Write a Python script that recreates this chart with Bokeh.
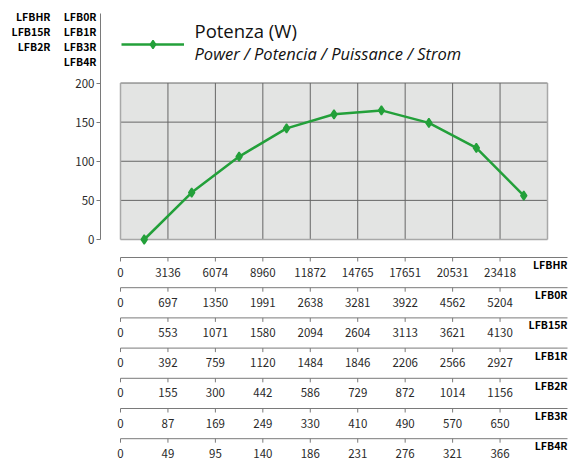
from bokeh.plotting import figure
from bokeh.models import Range1d, FixedTicker, Label, Legend, LegendItem
from bokeh.core.properties import value
from bokeh.embed import file_html
from bokeh.resources import INLINE

# ---------------- data ----------------
power_w = [0, 60, 106, 142, 160, 165, 149, 117, 56]
y_ticks = [0, 50, 100, 150, 200]

row_names = ["LFBHR", "LFB0R", "LFB15R", "LFB1R", "LFB2R", "LFB3R", "LFB4R"]
lfbhr = [0, 3136, 6074, 8960, 11872, 14765, 17651, 20531, 23418]
lfb0r = [0, 697, 1350, 1991, 2638, 3281, 3922, 4562, 5204]
lfb15r = [0, 553, 1071, 1580, 2094, 2604, 3113, 3621, 4130]
lfb1r = [0, 392, 759, 1120, 1484, 1846, 2206, 2566, 2927]
lfb2r = [0, 155, 300, 442, 586, 729, 872, 1014, 1156]
lfb3r = [0, 87, 169, 249, 330, 410, 490, 570, 650]
lfb4r = [0, 49, 95, 140, 186, 231, 276, 321, 366]
row_values = [lfbhr, lfb0r, lfb15r, lfb1r, lfb2r, lfb3r, lfb4r]

header_left = ["LFBHR", "LFB15R", "LFB2R"]
header_right = ["LFB0R", "LFB1R", "LFB3R", "LFB4R"]
legend_title = "Potenza (W)"
legend_sub = "Power / Potencia / Puissance / Strom"

# ---------------- layout (canvas pixels) ----------------
W, H = 568, 463
YAXIS_X, YAXIS_TOP = 100, 13
X0, XPU = 120, 427 / 9          # data x=0 at pixel, pixels per category
Y0, YPU = 239, 156.5 / 200      # data y=0 at pixel, pixels per watt
ROW0, PITCH = 257, 30.2         # first scale line, spacing of scales
NAME_RIGHT = 567

GREEN = "#23a03a"
GRID = "#666666"
EDGE = "#a8a8a8"
AXIS = "#7a7a7a"
TXT = "#2a2a2a"
NARROW = "Noto Sans CJK SC"
SANS = "Open Sans"

n = len(power_w)

p = figure(width=W, height=H,
           x_range=Range1d(-X0 / XPU, (W - X0) / XPU),
           y_range=Range1d(-(H - Y0) / YPU, Y0 / YPU),
           x_axis_type=None, output_backend="svg", toolbar_location=None,
           min_border=0)
p.outline_line_color = None
p.ygrid.visible = False
p.extra_y_ranges = {"rows": Range1d((H - ROW0) / PITCH, -ROW0 / PITCH)}

ya = p.yaxis[0]
ya.fixed_location = (YAXIS_X - X0) / XPU
ya.ticker = FixedTicker(ticks=y_ticks)
ya.bounds = (y_ticks[0], (Y0 - YAXIS_TOP) / YPU)
ya.major_tick_out = 4
ya.major_tick_in = 0
ya.minor_tick_line_color = None
ya.axis_line_color = AXIS
ya.major_tick_line_color = AXIS
ya.major_label_standoff = 2
ya.major_label_text_font = NARROW
ya.major_label_text_font_size = "11.5px"
ya.major_label_text_color = TXT

# plot area background and grid
p.quad(left=0, right=n, bottom=y_ticks[0], top=y_ticks[-1], fill_color="#e3e4e3", line_color=None)
inner = list(range(1, n))
p.segment(x0=inner, x1=inner, y0=[y_ticks[0]] * len(inner), y1=[y_ticks[-1]] * len(inner),
          line_color=GRID, line_width=1)
p.segment(x0=[0] * (len(y_ticks) - 1), x1=[n] * (len(y_ticks) - 1), y0=y_ticks[1:], y1=y_ticks[1:],
          line_color=GRID, line_width=1)
p.segment(x0=[0, n, 0], x1=[0, n, n], y0=[y_ticks[0], y_ticks[0], y_ticks[0]],
          y1=[y_ticks[-1], y_ticks[-1], y_ticks[0]], line_color=EDGE, line_width=1.5)

# data
xs = [i + 0.5 for i in range(n)]
line_r = p.line(xs, power_w, line_color=GREEN, line_width=2.5)
pts_r = p.scatter(xs, power_w, marker="diamond", size=9,
                  fill_color=GREEN, line_color=GREEN, line_width=1.5)

# scales below the chart
ticks = list(range(n))
line_end = (NAME_RIGHT - X0) / XPU
for k, (name, vals) in enumerate(zip(row_names, row_values)):
    p.segment(x0=[0], x1=[line_end], y0=[k], y1=[k], y_range_name="rows",
              line_color=AXIS, line_width=1)
    p.segment(x0=ticks, x1=ticks, y0=[k] * n, y1=[k + 4 / PITCH] * n, y_range_name="rows",
              line_color=AXIS, line_width=1)
    p.text(x=ticks, y=[k + 14.5 / PITCH] * n, text=[str(v) for v in vals], y_range_name="rows",
           text_align="center", text_baseline="middle", text_font=value(NARROW),
           text_font_size="11.5px", text_color=TXT)
    p.text(x=[line_end], y=[k + 7 / PITCH], text=[name], y_range_name="rows",
           text_align="right", text_baseline="middle", text_font=value(NARROW),
           text_font_style="bold", text_font_size="10.5px", text_color="#000000")

# header model list (top left)
def header(txt, right_x, cy):
    p.add_layout(Label(x=right_x, y=H - cy, x_units="screen", y_units="screen",
                       text=txt, text_align="right", text_baseline="middle",
                       text_font=NARROW, text_font_style="bold", text_font_size="10.5px",
                       text_color="#000000"))

for i, t in enumerate(header_left):
    header(t, 50, 15.5 + 15 * i)
for i, t in enumerate(header_right):
    header(t, 96, 15.5 + 15 * i)

# legend: sample line + marker, with the two text lines beside it
p.add_layout(Label(x=194, y=H - 30, x_units="screen", y_units="screen",
                   text=legend_title, text_align="left", text_baseline="middle",
                   text_font=SANS, text_font_size="18.5px", text_color="#111111"))
p.add_layout(Label(x=194, y=H - 53, x_units="screen", y_units="screen",
                   text=legend_sub, text_align="left", text_baseline="middle",
                   text_font=SANS, text_font_style="italic", text_font_size="16.5px",
                   text_color="#111111"))
legend = Legend(items=[LegendItem(label=" ", renderers=[line_r, pts_r])],
                location=(121, H - 54), padding=0, spacing=0, margin=0,
                glyph_width=63, glyph_height=20, label_height=20, label_standoff=0,
                border_line_color=None, background_fill_alpha=0,
                label_text_font_size="10px")
p.add_layout(legend)

open("out.html", "w").write(file_html(p, INLINE))
